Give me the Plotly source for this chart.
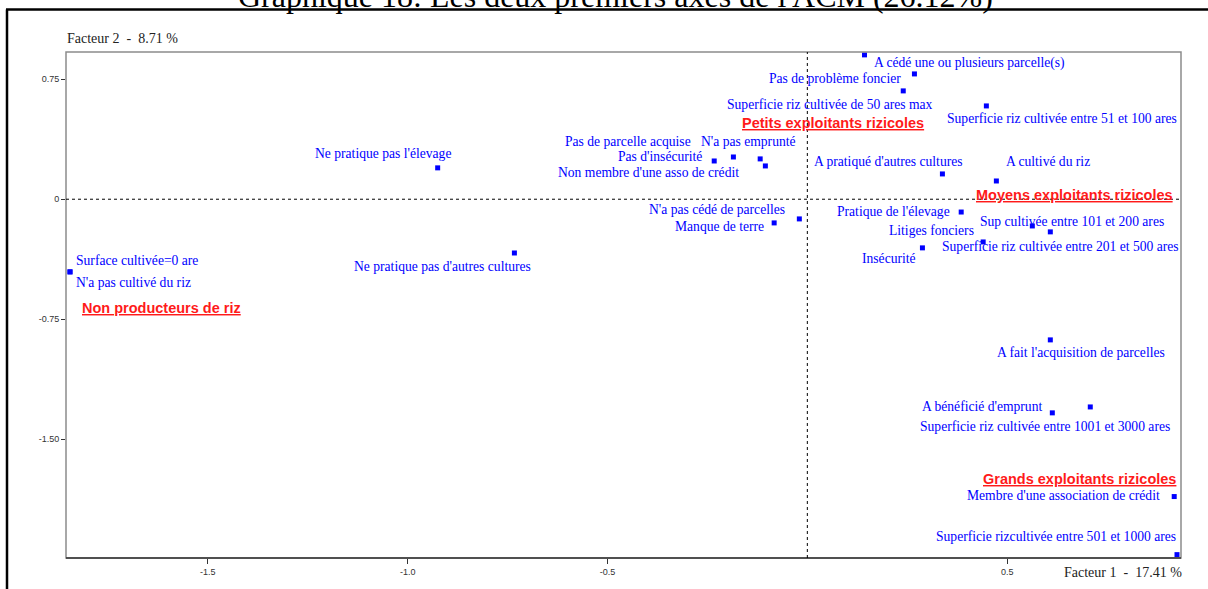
import plotly.graph_objects as go

# ---------------- data (coordinates on the two factors) ----------------
labels = [
    "Surface cultivée=0 are",
    "N'a pas cultivé du riz",
    "Ne pratique pas l'élevage",
    "Ne pratique pas d'autres cultures",
    "Pas d'insécurité",
    "Pas de parcelle acquise",
    "N'a pas emprunté",
    "Non membre d'une asso de crédit",
    "Manque de terre",
    "N'a pas cédé de parcelles",
    "A cédé une ou plusieurs parcelle(s)",
    "Pas de problème foncier",
    "Superficie riz cultivée de 50 ares max",
    "Superficie riz cultivée entre 51 et 100 ares",
    "A pratiqué d'autres cultures",
    "A cultivé du riz",
    "Pratique de l'élevage",
    "Sup cultivée entre 101 et 200 ares",
    "Superficie riz cultivée entre 201 et 500 ares",
    "Litiges fonciers",
    "Insécurité",
    "A fait l'acquisition de parcelles",
    "A bénéficié d'emprunt",
    "Superficie riz cultivée entre 1001 et 3000 ares",
    "Membre d'une association de crédit",
    "Superficie rizcultivée entre 501 et 1000 ares",
]
factor1 = [-1.845, -1.845, -0.925, -0.733, -0.233, -0.185, -0.118, -0.105,
           -0.083, -0.020, 0.143, 0.268, 0.240, 0.448, 0.338, 0.473,
           0.385, 0.563, 0.608, 0.440, 0.288, 0.608, 0.613, 0.708,
           0.918, 0.925]
factor2 = [-0.454, -0.454, 0.196, -0.336, 0.239, 0.264, 0.252, 0.208,
           -0.148, -0.123, 0.902, 0.783, 0.677, 0.583, 0.158, 0.114,
           -0.080, -0.167, -0.204, -0.267, -0.304, -0.879, -1.335, -1.298,
           -1.858, -2.221]

group_labels = ["Non producteurs de riz", "Petits exploitants rizicoles",
                "Moyens exploitants rizicoles", "Grands exploitants rizicoles"]
group_f1 = [-1.8175, -0.165, 0.420, 0.4375]
group_f2 = [-0.679, 0.476, 0.027, -1.748]

x_tickvals = [-1.5, -1.0, -0.5, 0.5]
x_ticktext = ["-1.5", "-1.0", "-0.5", "0.5"]
y_tickvals = [0.75, 0, -0.75, -1.5]
y_ticktext = ["0.75", "0", "-0.75", "-1.50"]

title_text = "Graphique 18: Les deux premiers axes de l'ACM (26.12%)"
x_title = "Facteur 1\u00a0\u00a0-\u00a0\u00a017.41 %"
y_title = "Facteur 2\u00a0\u00a0-\u00a0\u00a08.71 %"

# ---------------- layout / style ----------------
# label offsets in pixels (left edge, vertical centre) relative to the point
label_offsets = [
    (5, -11), (5, 11), (-124, -14), (-161, 14), (-97, -4), (-169, -15),
    (-60, -17), (-208, 7), (-100, 4), (-151, -9), (9, 8), (-146, 5),
    (-177, 14), (-40, 13), (-129, -12), (9, -19), (-125, -1), (-53, -4),
    (-109, 15), (-95, -11), (-61, 11), (-54, 13), (-131, -6), (-171, 20),
    (-208, -1), (-242, -18),
]

W, H = 1208, 589
ML, MR, MT, MB = 66, 27, 52, 31
PW, PH = W - ML - MR, H - MT - MB


def px_x(p):
    return (p - ML) / PW


def px_y(p):
    return (H - MB - p) / PH


SERIF = "Times New Roman, Liberation Serif, serif"
SANS = "Arial, Liberation Sans, sans-serif"
BLUE = "#0000ff"

fig = go.Figure()
fig.add_trace(go.Scatter(
    x=factor1, y=factor2, mode="markers",
    marker=dict(symbol="square", size=5, color=BLUE, line=dict(width=0)),
    hoverinfo="text", text=labels, showlegend=False,
))

annotations = []
for lab, fx, fy, (dx, dy) in zip(labels, factor1, factor2, label_offsets):
    annotations.append(dict(
        x=fx, y=fy, xref="x", yref="y", text=lab, showarrow=False,
        xanchor="left", yanchor="middle", xshift=dx, yshift=-dy,
        font=dict(family=SERIF, size=13.6, color=BLUE), borderpad=0,
    ))
for lab, gx, gy in zip(group_labels, group_f1, group_f2):
    annotations.append(dict(
        x=gx, y=gy, xref="x", yref="y", text="<b><u>" + lab + "</u></b>",
        showarrow=False, xanchor="left", yanchor="middle",
        font=dict(family=SANS, size=14.5, color="#ff1a1a"), borderpad=0,
    ))
annotations.append(dict(
    x=px_x(65), y=px_y(39), xref="paper", yref="paper", text=y_title,
    showarrow=False, xanchor="left", yanchor="middle",
    font=dict(family=SERIF, size=14, color="#222222"),
))
annotations.append(dict(
    x=px_x(1184), y=px_y(572), xref="paper", yref="paper", text=x_title,
    showarrow=False, xanchor="right", yanchor="middle",
    font=dict(family=SERIF, size=14, color="#222222"),
))
annotations.append(dict(
    x=px_x(615), y=px_y(16), xref="paper", yref="paper", text=title_text,
    showarrow=False, xanchor="center", yanchor="bottom",
    font=dict(family=SERIF, size=32, color="#000000"),
))

shapes = [
    # plot frame
    dict(type="rect", xref="paper", yref="paper", x0=0, y0=0, x1=1, y1=1,
         line=dict(color="#8c8c8c", width=1.5)),
    dict(type="line", xref="paper", yref="paper", x0=0, y0=0, x1=1, y1=0,
         line=dict(color="#333333", width=1.5)),
    # zero lines
    dict(type="line", xref="x", yref="paper", x0=0, x1=0, y0=0, y1=1,
         line=dict(color="#000000", width=1, dash="dot")),
    dict(type="line", xref="paper", yref="y", x0=0, x1=1, y0=0, y1=0,
         line=dict(color="#000000", width=1, dash="dot")),
    # document border (left and top)
    dict(type="line", xref="paper", yref="paper", x0=px_x(7), x1=px_x(7),
         y0=px_y(9.5), y1=px_y(600), line=dict(color="#000000", width=2.5)),
    dict(type="line", xref="paper", yref="paper", x0=px_x(6), x1=px_x(1215),
         y0=px_y(9.5), y1=px_y(9.5), line=dict(color="#000000", width=2.5)),
]

fig.update_layout(
    width=W, height=H,
    margin=dict(l=ML, r=MR, t=MT, b=MB, pad=0),
    paper_bgcolor="white", plot_bgcolor="white",
    xaxis=dict(range=[-1.855, 0.935], showgrid=False,
               zeroline=False, showline=False, ticks="outside", ticklen=5,
               tickcolor="#333333", tickwidth=1, tickvals=x_tickvals,
               ticktext=x_ticktext,
               tickfont=dict(family=SANS, size=9, color="#333333")),
    yaxis=dict(range=[-2.242, 0.92], showgrid=False, zeroline=False,
               showline=False, ticks="outside", ticklen=4,
               tickcolor="#333333", tickwidth=1, tickvals=y_tickvals,
               ticktext=y_ticktext,
               tickfont=dict(family=SANS, size=9, color="#333333")),
    annotations=annotations, shapes=shapes,
)

fig.write_html(
    "out.html",
    config={"displayModeBar": False},
    post_script="document.body.style.margin='0';"
                "document.body.style.overflow='hidden';",
)
